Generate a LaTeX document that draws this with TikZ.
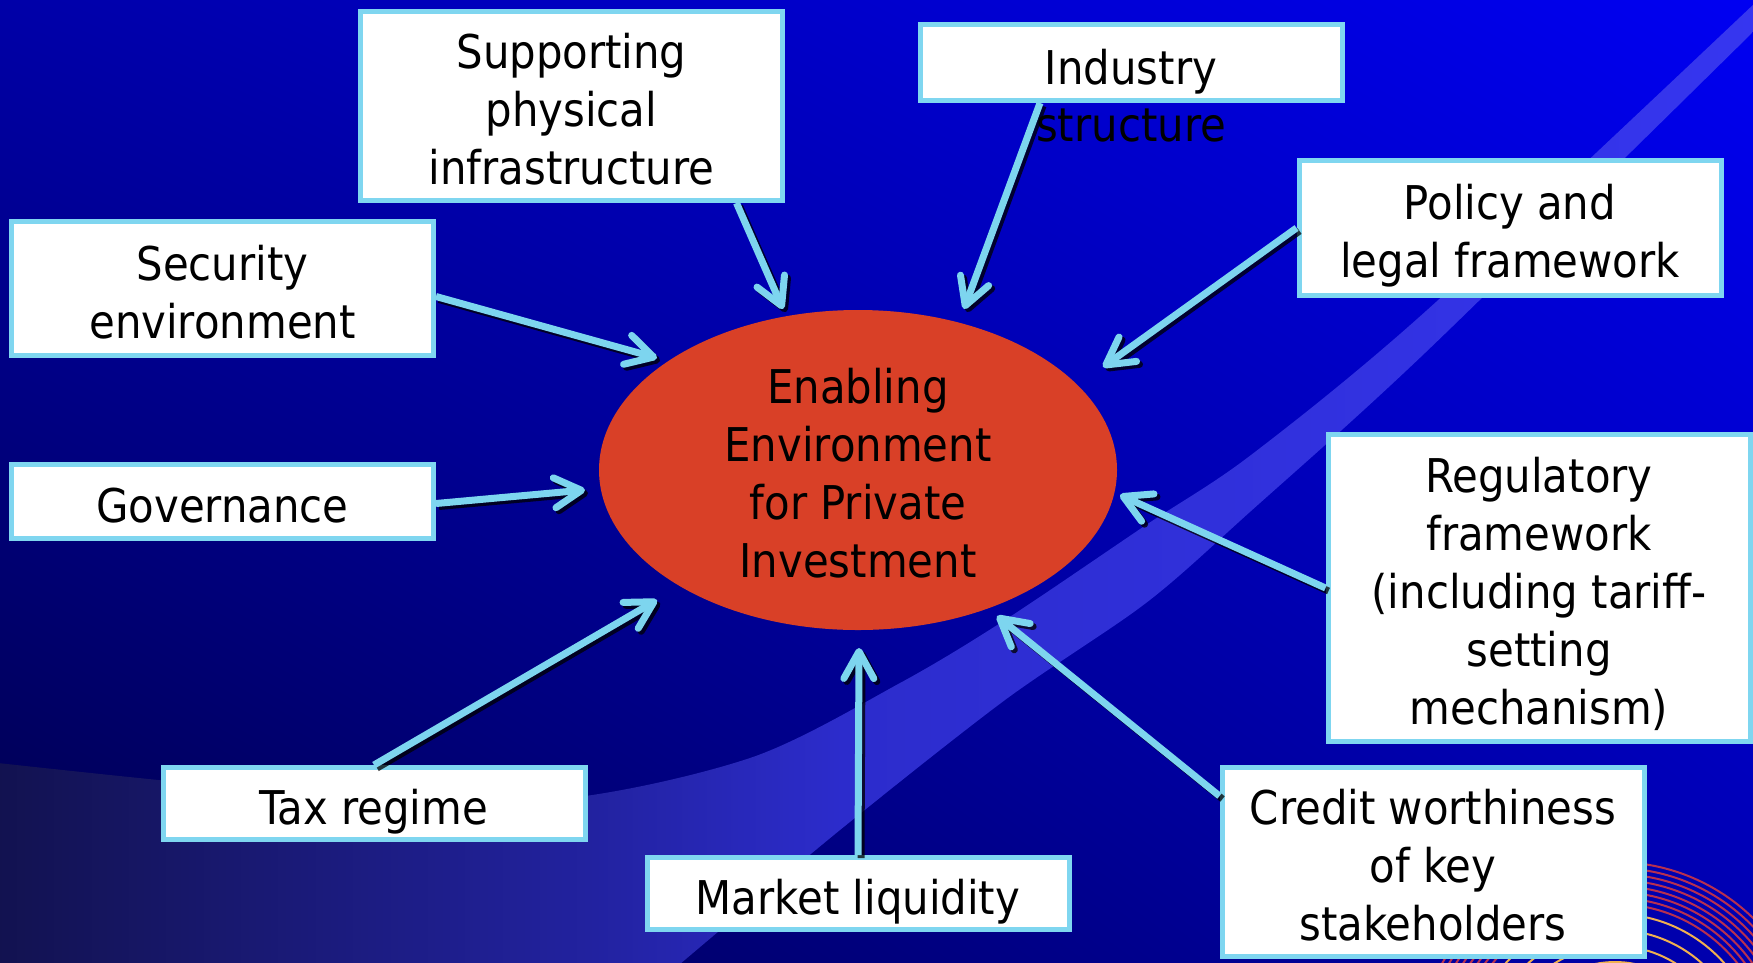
\documentclass[tikz,border=0pt]{standalone}
\usepackage{fontspec}
\setmainfont{DejaVu Sans Condensed}
\usetikzlibrary{arrows.meta,shapes.geometric,shadings}

\definecolor{bgUL}{HTML}{0000A8}
\definecolor{bgUR}{HTML}{0000F2}
\definecolor{bgLL}{HTML}{000048}
\definecolor{bgLR}{HTML}{0000B0}
\definecolor{bandA}{HTML}{121250}
\definecolor{bandB}{HTML}{2222A0}
\definecolor{bandC}{HTML}{2C2CCC}
\definecolor{bandD}{HTML}{3636F0}
\definecolor{edgeblue}{HTML}{7FD6F0}
\definecolor{arrowblue}{HTML}{7DD5EF}
\definecolor{ellred}{HTML}{D94027}
\definecolor{ringred}{HTML}{B8304F}
\definecolor{ringgold}{HTML}{F0B050}

% light swoosh across the slide, lighter towards the right
\pgfdeclarehorizontalshading{bandshade}{100bp}{%
  color(0bp)=(bandA); color(25bp)=(bandA); color(42bp)=(bandB);
  color(49bp)=(bandC); color(75bp)=(bandD); color(100bp)=(bandD)}

% fixed ascent/descent for every text block
\newcommand\firstlinestrut{\rule{0pt}{53pt}}
\newcommand\lastlinestrut{\rule[-12pt]{0pt}{12pt}}

\begin{document}
\begin{tikzpicture}[x=1pt,y=-1pt,
  txt/.style={inner sep=0pt, align=center, text=black,
    font=\fontsize{46.5}{58}\selectfont},
  box/.style={txt, draw=edgeblue, line width=5pt, fill=white,
    minimum width=422pt},
  link/.style={draw=arrowblue, line width=7pt,
    -{Straight Barb[length=27pt,width=30pt,round]}},
  linkshadow/.style={draw=black, opacity=0.75, line width=7pt,
    -{Straight Barb[length=27pt,width=30pt,round]},
    transform canvas={xshift=3pt,yshift=-3pt}}]

\useasboundingbox (0,0) rectangle (1753,962);

% background gradient
\shade[upper left=bgUL, upper right=bgUR, lower left=bgLL, lower right=bgLR]
  (0,0) rectangle (1753,962);

% swoosh
\shade[shading=bandshade]
  plot[smooth] coordinates {(-2,763) (300,793) (550,800) (750,758) (900,683)
    (1005,620) (1146,525) (1251,455) (1426,311) (1755,3)}
  -- (1755,30)
  -- plot[smooth] coordinates {(1755,30) (1426,352) (1251,511) (1146,603)
    (1005,700) (840,830) (680,964)}
  -- (-2,964) -- cycle;

% concentric rings in the lower right corner
\begin{scope}
  \clip (0,0) rectangle (1753,962);
  \foreach \r in {198,192,186,180,174,168,162,156}
    \draw[ringred, line width=2pt] (1615,1060) circle[radius=\r];
  \foreach \r in {146,130,114,98}
    \draw[ringgold, line width=2pt] (1615,1060) circle[radius=\r];
\end{scope}

% central ellipse
\node[ellipse, fill=ellred, minimum width=518pt, minimum height=320pt,
      inner sep=0pt] (ell) at (858,470) {};
\node[txt] (elltext) at (ell.center)
  {\firstlinestrut Enabling\\Environment\\for Private\\Investment\lastlinestrut};

% factor boxes
\node[box, minimum height=189pt] (sup) at (571.5,106)
  {\firstlinestrut Supporting\\physical\\infrastructure\lastlinestrut};
\node[box, minimum height=76pt] (ind) at (1131,62.5) {};
\node[box, minimum height=135pt] (pol) at (1510,228)
  {\firstlinestrut Policy and\\legal framework\lastlinestrut};
\node[box, minimum height=134pt] (sec) at (222.5,288.5)
  {\firstlinestrut Security\\environment\lastlinestrut};
\node[box, minimum height=74pt] (gov) at (222.5,501.5)
  {\firstlinestrut Governance\lastlinestrut};
\node[box, minimum height=307pt] (reg) at (1539,588)
  {\firstlinestrut Regulatory\\framework\\(including tariff-\\setting\\mechanism)\lastlinestrut};
\node[box, minimum height=72pt] (tax) at (374,803.5)
  {\firstlinestrut Tax regime\lastlinestrut};
\node[box, minimum height=72pt] (mkt) at (858,893.5)
  {\firstlinestrut Market liquidity\lastlinestrut};
\node[box, minimum height=189pt] (cred) at (1433,862)
  {\firstlinestrut Credit worthiness\\of key\\stakeholders\lastlinestrut};

% arrow tips near the ellipse
\coordinate (in-sup)  at (783,309);
\coordinate (in-ind)  at (964,309);
\coordinate (in-pol)  at (1103,367);
\coordinate (in-sec)  at (657,358);
\coordinate (in-gov)  at (585,490);
\coordinate (in-reg)  at (1120,495);
\coordinate (in-tax)  at (657,600);
\coordinate (in-mkt)  at (859,648);
\coordinate (in-cred) at (997,616);

\foreach \st in {linkshadow, link} {
  \draw[\st] ([xshift=165pt]sup.south) -- (in-sup);
  \draw[\st] ([xshift=-91pt]ind.south) -- (in-ind);
  \draw[\st] (pol.west) -- (in-pol);
  \draw[\st] ([yshift=-8pt]sec.east) -- (in-sec);
  \draw[\st] ([yshift=-2pt]gov.east) -- (in-gov);
  \draw[\st] (reg.west) -- (in-reg);
  \draw[\st] (tax.north) -- (in-tax);
  \draw[\st] (mkt.north) -- (in-mkt);
  \draw[\st] ([yshift=66pt]cred.west) -- (in-cred);
}

% the industry text runs out of its box
\node[txt, anchor=north, font=\fontsize{46.5}{56.5}\selectfont] (indtext)
  at ([yshift=-9.5pt]ind.north) {\firstlinestrut Industry\\structure\lastlinestrut};

\end{tikzpicture}
\end{document}
